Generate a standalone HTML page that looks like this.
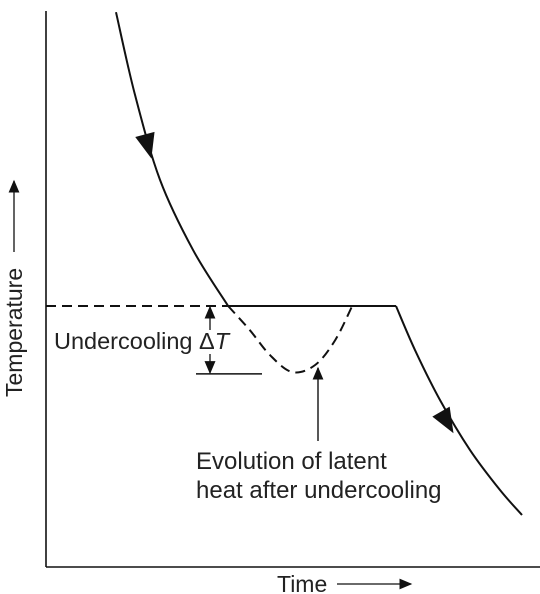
<!DOCTYPE html>
<html><head><meta charset="utf-8"><style>
html,body{margin:0;padding:0;background:#fff}
svg{display:block}
text{font-family:"Liberation Sans",sans-serif;fill:#222}
</style></head><body>
<svg width="540" height="594" viewBox="0 0 540 594">
<defs>
<marker id="ah" viewBox="0 0 10 10" refX="9" refY="5" markerWidth="13" markerHeight="11" orient="auto-start-reverse" markerUnits="userSpaceOnUse" preserveAspectRatio="none"><path d="M0,0L10,5L0,10z" fill="#111"/></marker>
</defs>
<g id="root"></g>
<line x1="46" y1="11" x2="46" y2="567" stroke="#111" stroke-width="1.6"/>
<line x1="46" y1="567" x2="540" y2="567" stroke="#111" stroke-width="1.6"/>
<text transform="translate(22,397) rotate(-90)" font-size="23">Temperature</text>
<line x1="14" y1="252" x2="14" y2="181" stroke="#111" stroke-width="1.3" marker-end="url(#ah)"/>
<text x="277" y="592" font-size="23">Time</text>
<line x1="337" y1="584" x2="411" y2="584" stroke="#111" stroke-width="1.3" marker-end="url(#ah)"/>
<text x="54" y="349" font-size="23.5">Undercooling <tspan>Δ</tspan><tspan font-style="italic">T</tspan></text>
<text font-size="24"><tspan x="196" y="469">Evolution of latent</tspan><tspan x="196" y="498">heat after undercooling</tspan></text>
</svg>
<script>
// schematic cooling curve: time units, temperature units (0..100)
const coolTime = [4.93, 8.16, 12.41, 18.03, 24];
const coolTemp = [99.8, 85.8, 71.4, 59.5, 50];
const dipTime = [24, 27.7, 31.1, 34.9, 38.8, 42.2, 45.1];
const dipTemp = [50, 45.9, 41.7, 38.8, 40, 44.2, 50];
const plateauTime = [24, 52.55];
const plateauTemp = [50, 50];
const finalTime = [52.55, 55.78, 60.03, 65.14, 70.24, 73.98];
const finalTemp = [50, 42.54, 34.07, 25.59, 18.81, 14.58];
const freezeTemp = 50;
const undercoolTemp = 38.5;

const X0=46;
const x = t => 87 + t*5.88;
const y = v => 306 - (v-50)*5.9;
const root = document.getElementById('root');
const NS='http://www.w3.org/2000/svg';
function path(ts, vs){
  let d='';
  ts.forEach((t,i)=>{d+=(i?'L':'M')+x(t).toFixed(1)+','+y(vs[i]).toFixed(1);});
  return d;
}
function smooth(ts, vs){
  const p=ts.map((t,i)=>[x(t),y(vs[i])]);
  let d='M'+p[0][0]+','+p[0][1];
  for(let i=0;i<p.length-1;i++){
    const p0=p[Math.max(0,i-1)],p1=p[i],p2=p[i+1],p3=p[Math.min(p.length-1,i+2)];
    const c1=[p1[0]+(p2[0]-p0[0])/6,p1[1]+(p2[1]-p0[1])/6];
    const c2=[p2[0]-(p3[0]-p1[0])/6,p2[1]-(p3[1]-p1[1])/6];
    d+='C'+c1+' '+c2+' '+p2;
  }
  return d;
}
function add(tag, attrs){const e=document.createElementNS(NS,tag);for(const k in attrs)e.setAttribute(k,attrs[k]);root.appendChild(e);return e;}

let e=add('path',{d:smooth(coolTime,coolTemp),fill:'none',stroke:'#111','stroke-width':2});


e=add('line',{x1:X0,y1:y(freezeTemp),x2:x(plateauTime[0]),y2:y(freezeTemp),stroke:'#111','stroke-width':2,'stroke-dasharray':'10,6'});


e=add('path',{d:path(plateauTime,plateauTemp),fill:'none',stroke:'#111','stroke-width':2});


e=add('path',{d:smooth(dipTime,dipTemp),fill:'none',stroke:'#111','stroke-width':2,'stroke-dasharray':'10,6'});


e=add('path',{d:smooth(finalTime,finalTemp),fill:'none',stroke:'#111','stroke-width':2});


function head(xx,yy,ang,name){
  const g=add('path',{d:'M-10,-12L10,-12L0,13z',fill:'#111',transform:`translate(${xx},${yy}) rotate(${ang})`});
  
  
}
head(148,146,-15,'arrowhead-1');
head(447,422,-30,'arrowhead-2');
const bx=210;
e=add('line',{x1:196,y1:y(undercoolTemp),x2:262,y2:y(undercoolTemp),stroke:'#111','stroke-width':1.5});


e=add('line',{x1:bx,y1:330,x2:bx,y2:y(freezeTemp)+1,stroke:'#111','stroke-width':1.3,'marker-end':'url(#ah)'});


e=add('line',{x1:bx,y1:354,x2:bx,y2:y(undercoolTemp)-1,stroke:'#111','stroke-width':1.3,'marker-end':'url(#ah)'});


e=add('line',{x1:318,y1:441,x2:318,y2:368,stroke:'#111','stroke-width':1.4,'marker-end':'url(#ah)'});


</script>
</body></html>
